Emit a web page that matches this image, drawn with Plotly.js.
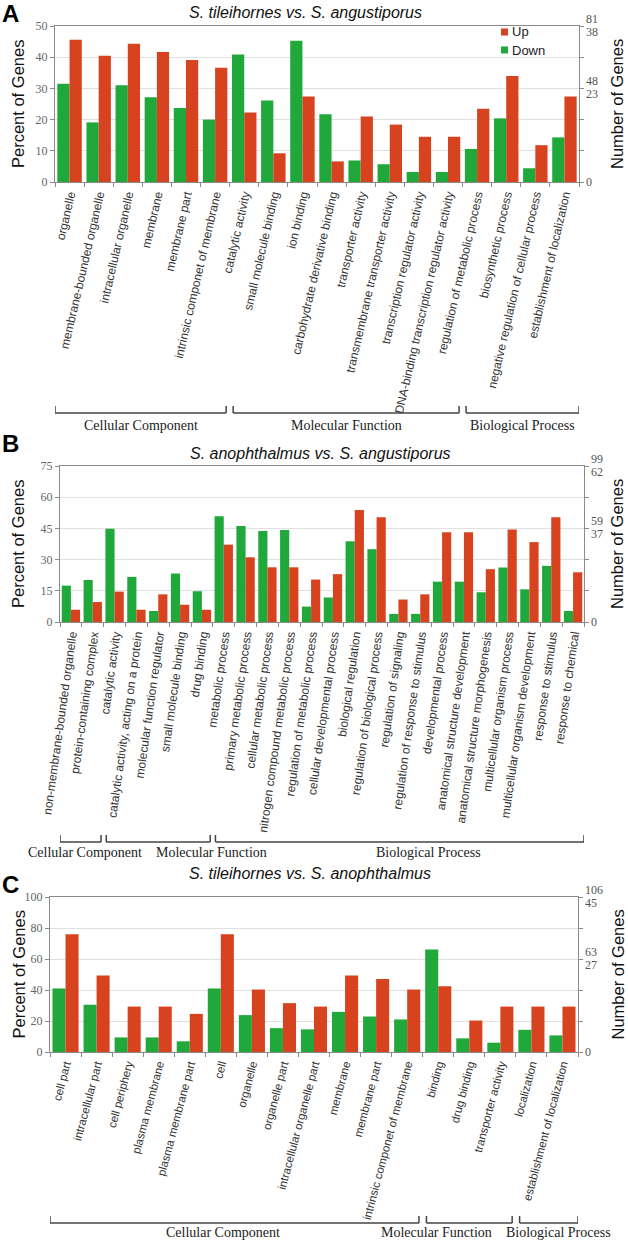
<!DOCTYPE html>
<html><head><meta charset="utf-8">
<script src="https://cdn.plot.ly/plotly-3.0.1.min.js"></script>
<style>html,body{margin:0;padding:0;background:#fff}#chart{width:628px;height:1241px}</style>
</head><body><div id="chart"></div>
<script>
// ---------- Panel A data ----------
const catsA = ['organelle','membrane-bounded organelle','intracellular organelle','membrane','membrane part','intrinsic componet of membrane','catalytic activity','small molecule binding','ion binding','carbohydrate derivative binding','transporter activity','transmembrane transporter activity','transcription regulator activity','DNA-binding transcription regulator activity','regulation of metabolic process','biosynthetic process','negative regulation of cellular process','establishment of localization'];
const downA = [31.5,19.1,31.0,27.2,23.7,20.0,40.9,26.1,45.3,21.7,6.9,5.7,3.2,3.2,10.6,20.4,4.4,14.3];
const upA   = [45.6,40.5,44.3,41.7,39.1,36.6,22.3,9.2,27.4,6.6,21.0,18.4,14.5,14.5,23.5,34.0,11.8,27.4];
const groupNamesA = ['Cellular Component','Molecular Function','Biological Process'];
const groupSizesA = [6,8,4];
const rightTopA = ['81','38'];
const rightMidA = ['48','23'];
const rightMidLevelA = 30;
const titleA = 'S. tileihornes vs. S. angustiporus';

// ---------- Panel B data ----------
const catsB = ['non-membrane-bounded organelle','protein-containing complex','catalytic activity','catalytic activity, acting on a protein','molecular function regulator','small molecule binding','drug binding','metabolic process','primary metabolic process','cellular metabolic process','nitrogen compound metabolic process','regulation of metabolic process','cellular developmental process','biological regulation','regulation of biological process','regulation of signaling','regulation of response to stimulus','developmental process','anatomical structure development','anatomical structure morphogenesis','multicellular organism process','multicellular organism development','response to stimulus','response to chemical'];
const downB = [17.5,20.2,44.8,21.7,5.3,23.3,14.8,50.9,46.2,43.7,44.2,7.4,11.8,38.8,35.0,3.9,3.9,19.4,19.4,14.3,26.2,15.7,27.0,5.3];
const upB   = [5.9,9.6,14.6,5.9,13.3,8.3,5.9,37.2,31.1,26.3,26.3,20.4,23.0,53.9,50.4,10.8,13.3,43.2,43.2,25.4,44.5,38.4,50.4,23.9];
const groupNamesB = ['Cellular Component','Molecular Function','Biological Process'];
const groupSizesB = [2,5,17];
const rightTopB = ['99','62'];
const rightMidB = ['59','37'];
const rightMidLevelB = 45;
const titleB = 'S. anophthalmus vs. S. angustiporus';

// ---------- Panel C data ----------
const catsC = ['cell part','intracellular part','cell periphery','plasma membrane','plasma membrane part','cell','organelle','organelle part','intracellular organelle part','membrane','membrane part','intrinsic componet of membrane','binding','drug binding','transporter activity','localization','establishment of localization'];
const downC = [41.0,30.5,9.4,9.4,6.9,41.0,23.8,15.4,14.6,25.9,22.9,21.0,66.2,8.8,6.0,14.3,10.7];
const upC   = [76.0,49.3,29.3,29.3,24.6,76.0,40.3,31.5,29.3,49.3,47.1,40.3,42.4,20.3,29.3,29.3,29.3];
const groupNamesC = ['Cellular Component','Molecular Function','Biological Process'];
const groupSizesC = [12,3,2];
const rightTopC = ['106','45'];
const rightMidC = ['63','27'];
const rightMidLevelC = 60;
const titleC = 'S. tileihornes vs. S. anophthalmus';

const seriesNames = ['Down','Up'];

// ---------- styling / layout ----------
const W = 628, H = 1241;
const px = v => v / W, py = v => 1 - v / H;
const GREEN = '#20a83a', RED = '#d6431e';
const AXC = '#8a8a8a';
const SANS = 'Liberation Sans, Arial, sans-serif';
const SERIF = 'Liberation Serif, Times New Roman, serif';

const panels = [
  {cats:catsA, down:downA, up:upA, groups:groupNamesA, sizes:groupSizesA, rTop:rightTopA, rMid:rightMidA, rLevel:rightMidLevelA, title:titleA,
   ymax:50, dtick:10, box:[55,579,26,182], titleX:305, titleY:12, letter:'A', letterY:13,
   angle:-77, lsize:12, brY:[406,413], glY:425, glShift:[0,0,0]},
  {cats:catsB, down:downB, up:upB, groups:groupNamesB, sizes:groupSizesB, rTop:rightTopB, rMid:rightMidB, rLevel:rightMidLevelB, title:titleB,
   ymax:75, dtick:15, box:[60,584,466,622], titleX:320, titleY:453, letter:'B', letterY:443,
   angle:-82, lsize:12, brY:[835,842], glY:852, glShift:[4,53,29]},
  {cats:catsC, down:downC, up:upC, groups:groupNamesC, sizes:groupSizesC, rTop:rightTopC, rMid:rightMidC, rLevel:rightMidLevelC, title:titleC,
   ymax:100, dtick:20, box:[50,578,897,1052], titleX:310, titleY:873, letter:'C', letterY:884,
   angle:-75, lsize:11.5, brY:[1216,1223], glY:1232, glShift:[-11,-33,10]}
];

const data = [];
const layout = {
  width: W, height: H, autosize: false,
  margin: {l:0, r:0, t:0, b:0},
  paper_bgcolor: '#fff', plot_bgcolor: '#fff',
  barmode: 'group', bargap: 0.16, bargroupgap: 0,
  showlegend: false,
  font: {family: SANS, color: '#222'},
  annotations: [], shapes: []
};

panels.forEach((p, i) => {
  const k = i === 0 ? '' : String(i + 1);
  const xa = 'x' + k, ya = 'y' + k;
  const n = p.cats.length;
  data.push({type:'bar', name:seriesNames[0], x:p.cats, y:p.down, xaxis:xa, yaxis:ya, marker:{color:GREEN}, hoverinfo:'x+y+name'});
  data.push({type:'bar', name:seriesNames[1], x:p.cats, y:p.up, xaxis:xa, yaxis:ya, marker:{color:RED}, hoverinfo:'x+y+name'});
  const [l, r, t, b] = p.box;
  layout['xaxis' + k] = {
    domain:[px(l), px(r)], anchor:ya, type:'category', range:[-0.5, n - 0.5], autorange:false,
    tickangle:p.angle,
    tickfont:{family:SANS, size:p.lsize, color:'#333'},
    ticks:'outside', tickson:'boundaries', ticklen:4, tickcolor:AXC,
    showline:true, linecolor:AXC, linewidth:1, mirror:true, showgrid:false,
    automargin:false, fixedrange:true
  };
  layout['yaxis' + k] = {
    domain:[py(b), py(t)], anchor:xa, range:[0, p.ymax], autorange:false, tick0:0, dtick:p.dtick,
    ticks:'outside', ticklen:4, tickcolor:AXC, showline:true, linecolor:AXC, linewidth:1,
    mirror:'ticks', gridcolor:'#e0e0e0', zeroline:false,
    tickfont:{family:SERIF, size:12, color:'#666'}, automargin:false, fixedrange:true
  };
  // title
  layout.annotations.push({xref:'paper', yref:'paper', x:px(p.titleX), y:py(p.titleY), xanchor:'center', yanchor:'middle',
    text:'<i>' + p.title + '</i>', showarrow:false, font:{family:SANS, size:16, color:'#111'}});
  // panel letter
  layout.annotations.push({xref:'paper', yref:'paper', x:px(0), y:py(p.letterY), xanchor:'left', yanchor:'middle',
    text:'<b>' + p.letter + '</b>', showarrow:false, font:{family:SANS, size:24, color:'#000'}});
  // axis titles
  layout.annotations.push({xref:'paper', yref:'paper', x:px(18), y:py((t + b) / 2), xanchor:'center', yanchor:'middle',
    text:'Percent of Genes', textangle:-90, showarrow:false, font:{family:SANS, size:16.5, color:'#111'}});
  layout.annotations.push({xref:'paper', yref:'paper', x:px(617), y:py((t + b) / 2), xanchor:'center', yanchor:'middle',
    text:'Number of Genes', textangle:-90, showarrow:false, font:{family:SANS, size:16.5, color:'#111'}});
  // right-axis gene counts
  const rx = px(r + 5);
  [[p.rTop[0], p.ymax, 7], [p.rTop[1], p.ymax, -6], [p.rMid[0], p.rLevel, 7], [p.rMid[1], p.rLevel, -6], ['0', 0, 0]].forEach(([txt, lev, sh]) => {
    layout.annotations.push({xref:'paper', yref:ya, x:rx, y:lev, xanchor:'left', yanchor:'middle', yshift:sh,
      text:txt, showarrow:false, font:{family:SERIF, size:12, color:'#555555'}});
  });
  // group brackets and labels
  let start = 0;
  p.groups.forEach((g, j) => {
    const end = start + p.sizes[j] - 1;
    const x0 = start === 0 ? -0.5 : start - 0.5 + 0.12;
    const x1 = end === n - 1 ? n - 0.5 : end + 0.5 - 0.12;
    const line = {color:'#444', width:1.5};
    layout.shapes.push({type:'line', xref:xa, yref:'paper', x0:x0, x1:x1, y0:py(p.brY[1]), y1:py(p.brY[1]), line:line});
    layout.shapes.push({type:'line', xref:xa, yref:'paper', x0:x0, x1:x0, y0:py(p.brY[0]), y1:py(p.brY[1]), line:line});
    layout.shapes.push({type:'line', xref:xa, yref:'paper', x0:x1, x1:x1, y0:py(p.brY[0]), y1:py(p.brY[1]), line:line});
    layout.annotations.push({xref:xa, yref:'paper', x:(x0 + x1) / 2, y:py(p.glY), xanchor:'center', yanchor:'middle', xshift:p.glShift[j],
      text:g, showarrow:false, font:{family:SERIF, size:14, color:'#222'}});
    start = end + 1;
  });
});

// legend (panel A) drawn as keyed squares with text
const legY = [32, 50];
[[seriesNames[1], RED], [seriesNames[0], GREEN]].forEach(([nm, col], j) => {
  layout.shapes.push({type:'rect', xref:'paper', yref:'paper', x0:px(501), x1:px(508), y0:py(legY[j] + 3.5), y1:py(legY[j] - 3.5),
    fillcolor:col, line:{width:0}});
  layout.annotations.push({xref:'paper', yref:'paper', x:px(510), y:py(legY[j]), xanchor:'left', yanchor:'middle',
    text:nm, showarrow:false, font:{family:SANS, size:13, color:'#222'}});
});

Plotly.newPlot('chart', data, layout, {displayModeBar:false, staticPlot:true});
</script>
</body></html>
